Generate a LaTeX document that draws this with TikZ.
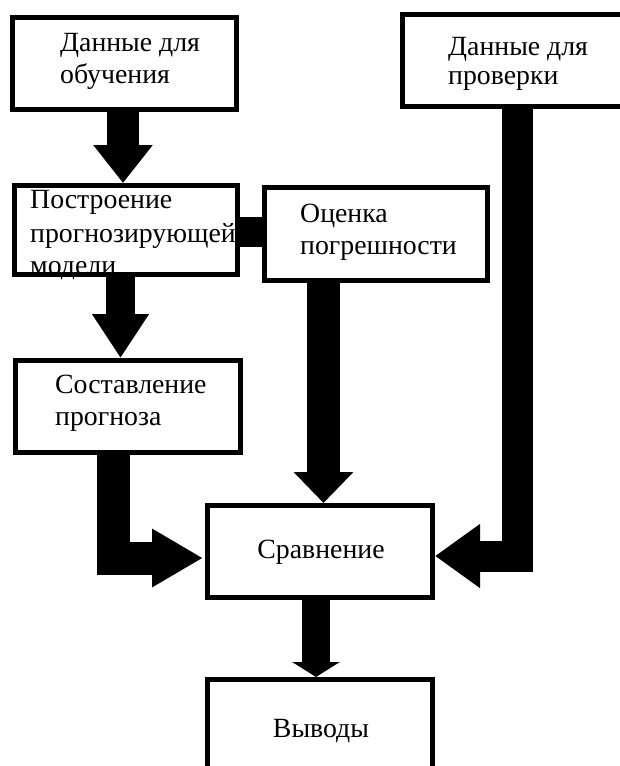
\documentclass[tikz,border=0pt]{standalone}
\usepackage{fontspec}
\setmainfont{Liberation Serif}
\usetikzlibrary{arrows.meta,calc}
\begin{document}
\begin{tikzpicture}[x=1pt,y=-1pt,
  box/.style={draw=black, line width=5pt, rectangle, inner sep=0pt},
  lbl/.style={anchor=base west, inner sep=0pt, font=\fontsize{27.8}{32}\selectfont},
  flow/.style={draw=black, line cap=butt, line join=miter},
]
\useasboundingbox (0,0) rectangle (620,766);
% boxes
\node[box, minimum width=224pt, minimum height=92pt] (b1) at (124.5,63.5) {};
\node[box, minimum width=237.5pt, minimum height=92pt] (b2) at (521.25,60.5) {};
\node[box, minimum width=223pt, minimum height=89pt] (b3) at (126,230) {};
\node[box, minimum width=223pt, minimum height=93pt] (b4) at (376,234) {};
\node[box, minimum width=225pt, minimum height=92pt] (b5) at (128,406.5) {};
\node[box, minimum width=225pt, minimum height=92pt] (b6) at (320,551.5) {};
\node[box, minimum width=225pt, minimum height=110.5pt] (b7) at (320,734.75) {};
% texts
\node[lbl] (t1a) at (60,51) {Данные для};
\node[lbl] (t1b) at (60,83) {обучения};
\node[lbl] (t2a) at (448,55) {Данные для};
\node[lbl] (t2b) at (448,84) {проверки};
\node[lbl] (t3a) at (30,208) {Построение};
\node[lbl] (t3b) at (30,242) {прогнозирующей};
\node[lbl] (t3c) at (30,274) {модели};
\node[lbl] (t4a) at (300,222) {Оценка};
\node[lbl] (t4b) at (300,254) {погрешности};
\node[lbl] (t5a) at (55,393) {Составление};
\node[lbl] (t5b) at (55,425) {прогноза};
\node[lbl, anchor=base] (t6) at (321,558) {Сравнение};
\node[lbl, anchor=base] (t7) at (321,737) {Выводы};
% connectors
\draw[flow, line width=32pt, -{Triangle[width=57pt,length=38pt]}]
  ([xshift=-1.5pt]b1.south) -- ([xshift=-3pt]b3.north);
\draw[flow, line width=29pt, -{Triangle[width=54pt,length=44pt]}]
  ([xshift=-5.5pt]b3.south) -- ([xshift=-7.5pt]b5.north);
\draw[flow, line width=30pt]
  ([yshift=-2pt]b3.east) -- ([yshift=2pt]b4.west);
\draw[flow, line width=33pt, -{Triangle[width=58pt,length=31pt]}]
  ([xshift=-52.5pt]b4.south) -- ([xshift=3.5pt]b6.north);
\draw[flow, line width=33pt, -{Triangle[width=55pt,length=51pt]}]
  ([xshift=-14.5pt]b5.south) |- ([xshift=-2pt,yshift=-6.5pt]b6.west);
\draw[flow, line width=31pt, -{Triangle[width=61pt,length=45pt]}]
  ([xshift=-4.25pt]b2.south) |- ([yshift=-4.5pt]b6.east);
\draw[flow, line width=28pt, -{Triangle[width=47pt,length=15pt]}]
  ([xshift=-4pt]b6.south) -- ([xshift=-4pt]b7.north);
\end{tikzpicture}
\end{document}
